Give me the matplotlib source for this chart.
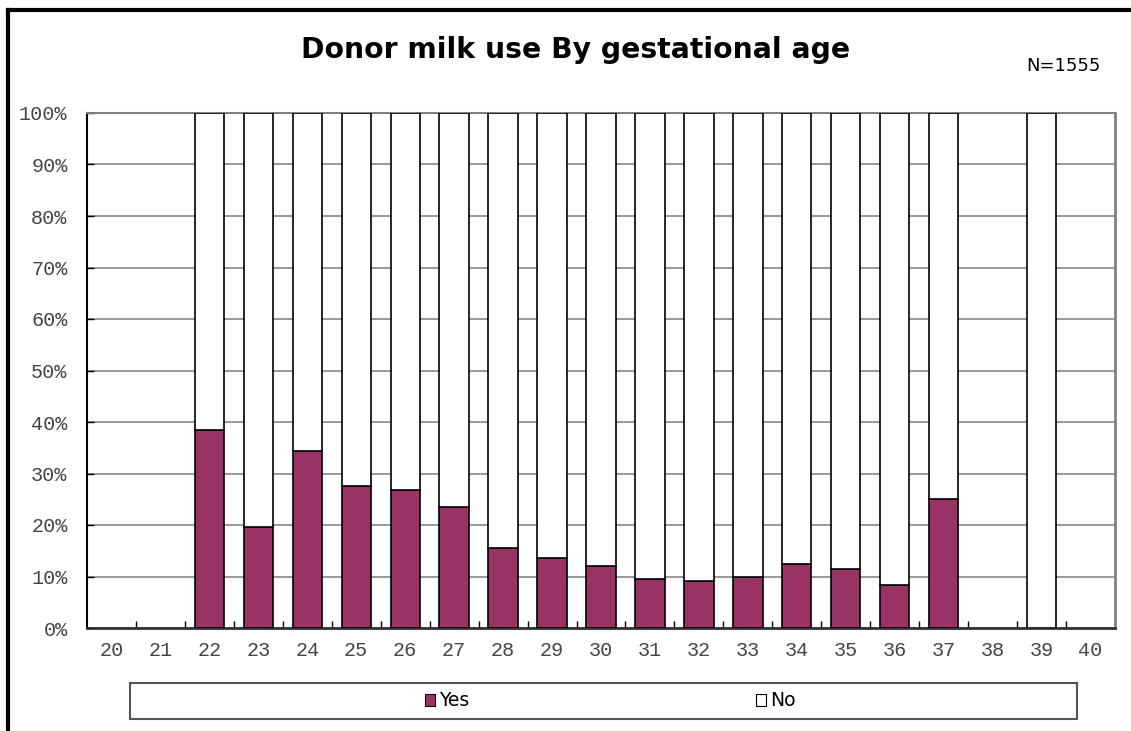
import matplotlib
matplotlib.use("Agg")
import matplotlib.pyplot as plt
from matplotlib.patches import Rectangle, Patch
from matplotlib.lines import Line2D
import numpy as np

categories = [str(a) for a in range(20, 41)]
yes_pct = [0, 0, 38.4, 19.6, 34.4, 27.6, 26.8, 23.5, 15.5, 13.5, 12.0,
           9.6, 9.2, 10.0, 12.5, 11.5, 8.3, 25.0, 0, 0, 0]
no_pct = [0, 0, 61.6, 80.4, 65.6, 72.4, 73.2, 76.5, 84.5, 86.5, 88.0,
          90.4, 90.8, 90.0, 87.5, 88.5, 91.7, 75.0, 0, 100, 0]
ytick_labels = [f"{v}%" for v in range(0, 101, 10)]
title = "Donor milk use By gestational age"
n_label = "N=1555"

W, H = 1131, 731
fig = plt.figure(figsize=(W / 100, H / 100), dpi=100)
fig.patch.set_facecolor("white")

ax = fig.add_axes([87 / W, (H - 628) / H, (1115 - 87) / W, (628 - 113) / H])
x = np.arange(len(categories))
yes_edge = ["black" if v > 0 else "none" for v in yes_pct]
no_edge = ["black" if v > 0 else "none" for v in no_pct]
ax.bar(x, yes_pct, width=0.6, color="#993366", edgecolor=yes_edge, linewidth=1.2, zorder=3)
ax.bar(x, no_pct, width=0.6, bottom=yes_pct, color="white", edgecolor=no_edge, linewidth=1.2, zorder=3)

ax.set_xlim(-0.5, len(categories) - 0.5)
ax.set_ylim(0, 100)
ax.set_yticks(range(0, 101, 10))
ax.set_yticklabels(ytick_labels)
ax.set_xticks(x)
ax.set_xticklabels(categories)
ax.set_xticks(np.arange(0.5, len(categories) - 1, 1.0), minor=True)
ax.tick_params(axis="x", which="major", length=0, pad=9)
ax.tick_params(axis="x", which="minor", direction="in", length=5, width=1, color="black")
ax.tick_params(axis="y", direction="in", length=5, width=1, pad=14)
for lab in ax.get_xticklabels() + ax.get_yticklabels():
    lab.set_family("Liberation Mono")
    lab.set_fontsize(14.5)
    lab.set_color("#444444")
ax.yaxis.grid(True, color="#888888", linewidth=1.2, zorder=0)
ax.set_axisbelow(True)
ax.spines["left"].set_color("black")
ax.spines["left"].set_linewidth(1.5)
ax.spines["bottom"].set_color("#333333")
ax.spines["bottom"].set_linewidth(2)
ax.spines["top"].set_color("#808080")
ax.spines["top"].set_linewidth(1.5)
ax.spines["right"].set_color("#808080")
ax.spines["right"].set_linewidth(2)

fig.text(576 / W, 1 - 50 / H, title, ha="center", va="center",
         fontsize=20.3, fontweight="bold", family="DejaVu Sans")
fig.text(1101 / W, 1 - 66 / H, n_label, ha="right", va="center",
         fontsize=13, family="DejaVu Sans")

# figure border (left and top)
fig.add_artist(Line2D([8 / W, 8 / W], [0, 1 - 10 / H], color="black", linewidth=3,
                      transform=fig.transFigure))
fig.add_artist(Line2D([8 / W, 1], [1 - 10 / H, 1 - 10 / H], color="black", linewidth=3,
                      transform=fig.transFigure))

# legend box
fig.add_artist(Rectangle((130 / W, 1 - 719 / H), (1077 - 130) / W, (719 - 683) / H,
                         transform=fig.transFigure, facecolor="white",
                         edgecolor="#555555", linewidth=1.5))
handles = [Patch(facecolor="#993366", edgecolor="black", linewidth=0.8, label="Yes"),
           Patch(facecolor="white", edgecolor="black", linewidth=0.8, label="No")]
fig.legend(handles=handles, loc="center", bbox_to_anchor=(610 / W, 1 - 701 / H),
           ncol=2, frameon=False, fontsize=13.5, handlelength=0.55, handleheight=0.55,
           handletextpad=0.2, columnspacing=15.3)

fig.savefig("out.png", dpi=100)
